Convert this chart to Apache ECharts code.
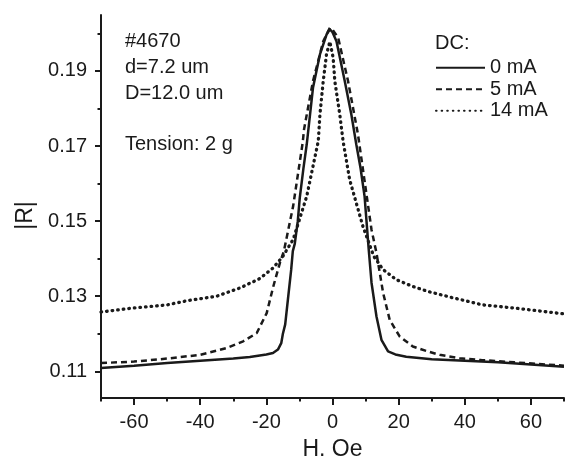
<!DOCTYPE html>
<html>
<head>
<meta charset="utf-8">
<script src="https://cdn.jsdelivr.net/npm/echarts@6/dist/echarts.min.js"></script>
<style>
  html, body { margin: 0; padding: 0; background: #fff; }
  #chart { width: 565px; height: 457px; }
</style>
</head>
<body>
<div id="chart"></div>
<script>
// |R| vs H (Oe), three DC bias currents
const h0 = [-70, -60, -50, -40, -30, -25, -20, -18, -16.5, -15.5, -15, -14.3, -13.5, -12.5, -12, -11.4, -10.5, -9.9, -8.8, -7.8, -5.9, -3.8, -1.8, -0.8, 0, 1.2, 3.7, 5.7, 7.2, 8.5, 9.7, 10.9, 11.8, 13.3, 14.8, 16.8, 19, 22.3, 30, 40, 50, 60, 70];
const r0 = [0.1109, 0.1115, 0.1122, 0.1128, 0.1134, 0.1138, 0.1145, 0.1149, 0.1158, 0.1175, 0.1200, 0.1225, 0.1290, 0.1370, 0.1420, 0.1440, 0.1500, 0.1562, 0.1640, 0.1704, 0.1855, 0.1944, 0.1997, 0.2011, 0.2003, 0.1979, 0.1873, 0.1784, 0.1704, 0.1640, 0.1566, 0.1430, 0.1336, 0.1246, 0.1184, 0.1153, 0.1145, 0.1139, 0.1132, 0.1128, 0.1124, 0.1118, 0.1112];

const h5 = [-70, -60, -50, -40, -32, -27, -22.9, -19.9, -17.9, -15.9, -14.7, -11.9, -9.0, -8.6, -5.9, -2.8, -0.8, 0, 1.7, 4.7, 7.7, 8.2, 11.8, 13.3, 15.3, 17.3, 20.3, 24.3, 28.8, 32.4, 38.4, 45, 55, 70];
const r5 = [0.1122, 0.1126, 0.1134, 0.1144, 0.1162, 0.1180, 0.1202, 0.1255, 0.1326, 0.1389, 0.1420, 0.1540, 0.1710, 0.1745, 0.1873, 0.1979, 0.2015, 0.2010, 0.1989, 0.1873, 0.1731, 0.1700, 0.1477, 0.1415, 0.1309, 0.1237, 0.1193, 0.1166, 0.1153, 0.1144, 0.1135, 0.1130, 0.1124, 0.1115];

const h14 = [-70, -60, -50, -44, -35, -28, -22, -18, -15.2, -11.9, -7.8, -4.3, -3.8, -2.8, -1.8, -0.8, 0.2, 0.7, 2.2, 3.2, 5.2, 9.2, 12.5, 15.3, 19.3, 24.3, 28.8, 35.4, 45.4, 55.5, 70];
const r14 = [0.1258, 0.1269, 0.1277, 0.1288, 0.1300, 0.1322, 0.1347, 0.1375, 0.1404, 0.1451, 0.1566, 0.1713, 0.1784, 0.1873, 0.1945, 0.1978, 0.1935, 0.1873, 0.1784, 0.1713, 0.1610, 0.1486, 0.1406, 0.1371, 0.1344, 0.1326, 0.1313, 0.1298, 0.1277, 0.1268, 0.1253];

const seriesNames = ["0 mA", "5 mA", "14 mA"];
const xMajor = [-60, -40, -20, 0, 20, 40, 60];
const xMinor = [-70, -50, -30, -10, 10, 30, 50, 70];
const yMajor = [0.11, 0.13, 0.15, 0.17, 0.19];
const yMinor = [0.12, 0.14, 0.16, 0.18, 0.20];
const notes = ["#4670", "d=7.2 um", "D=12.0 um", "", "Tension: 2 g"];

const FONT = "'Liberation Sans', Arial, sans-serif";
const INK = "#1a1a1a";
const X_MIN = -70, X_MAX = 70, Y_MIN = 0.1029, Y_MAX = 0.2049;

const pairs = (xs, ys) => xs.map((x, i) => [x, ys[i]]);

const chart = echarts.init(document.getElementById("chart"), null, { renderer: "canvas" });

const baseX = {
  type: "value", min: X_MIN, max: X_MAX, position: "bottom",
  splitLine: { show: false },
};
const baseY = {
  type: "value", min: Y_MIN, max: Y_MAX, position: "left",
  splitLine: { show: false },
};

chart.setOption({
  backgroundColor: "#fff",
  animation: false,
  textStyle: { fontFamily: FONT },
  grid: { left: 101, right: 1, top: 15, bottom: 59, containLabel: false, outerBoundsMode: "none" },
  legend: {
    data: seriesNames,
    orient: "vertical",
    left: 435,
    top: 57,
    padding: 0,
    itemGap: 0,
    itemWidth: 49,
    itemHeight: 10,
    itemStyle: { color: "rgba(0,0,0,0)", borderWidth: 0, opacity: 0 },
    textStyle: { fontSize: 20, color: INK, fontFamily: FONT, lineHeight: 21.5 },
  },
  graphic: [
    {
      type: "text", left: 125, top: 29, silent: true,
      style: { text: notes.join("\n"), fontSize: 20, fontFamily: FONT, fill: INK, lineHeight: 25.7 },
    },
    {
      type: "text", left: 435, top: 33, silent: true,
      style: { text: "DC:", fontSize: 20, fontFamily: FONT, fill: INK, lineHeight: 20 },
    },
  ],
  xAxis: [
    Object.assign({}, baseX, {
      name: "H. Oe",
      nameLocation: "middle",
      nameGap: 40,
      nameTextStyle: { fontSize: 23, color: INK, fontFamily: FONT },
      axisLine: { show: true, onZero: false, lineStyle: { color: INK, width: 2 } },
      axisTick: { show: true, inside: false, length: 7, customValues: xMajor, lineStyle: { color: INK, width: 2 } },
      axisLabel: { show: true, customValues: xMajor, margin: 14, fontSize: 20, color: INK, fontFamily: FONT },
    }),
    Object.assign({}, baseX, {
      axisLine: { show: false, onZero: false },
      axisTick: { show: true, inside: false, length: 3.5, customValues: xMinor, lineStyle: { color: INK, width: 2 } },
      axisLabel: { show: false },
    }),
  ],
  yAxis: [
    Object.assign({}, baseY, {
      name: "|R|",
      nameLocation: "middle",
      nameGap: 64,
      nameTextStyle: { fontSize: 23, color: INK, fontFamily: FONT, padding: [0, 18, 0, 0] },
      axisLine: { show: true, onZero: false, lineStyle: { color: INK, width: 2 } },
      axisTick: { show: true, inside: false, length: 6, customValues: yMajor, lineStyle: { color: INK, width: 2 } },
      axisLabel: { show: true, customValues: yMajor, margin: 14, fontSize: 20, color: INK, fontFamily: FONT,
        formatter: (v) => Number(v).toFixed(2) },
    }),
    Object.assign({}, baseY, {
      axisLine: { show: false, onZero: false },
      axisTick: { show: true, inside: false, length: 3.5, customValues: yMinor, lineStyle: { color: INK, width: 2 } },
      axisLabel: { show: false },
    }),
  ],
  series: [
    {
      name: seriesNames[0], type: "line", xAxisIndex: 0, yAxisIndex: 0,
      data: pairs(h0, r0), symbol: "none", showSymbol: false,
      lineStyle: { color: INK, width: 2.5, type: "solid" },
      itemStyle: { color: INK },
    },
    {
      name: seriesNames[1], type: "line", xAxisIndex: 0, yAxisIndex: 0,
      data: pairs(h5, r5), symbol: "none", showSymbol: false,
      lineStyle: { color: INK, width: 2.5, type: [6, 4] },
      itemStyle: { color: INK },
    },
    {
      name: seriesNames[2], type: "line", xAxisIndex: 0, yAxisIndex: 0,
      data: pairs(h14, r14), symbol: "none", showSymbol: false,
      lineStyle: { color: INK, width: 3.3, type: [0.6, 5], cap: "round" },
      itemStyle: { color: INK },
    },
  ],
});
</script>
</body>
</html>
